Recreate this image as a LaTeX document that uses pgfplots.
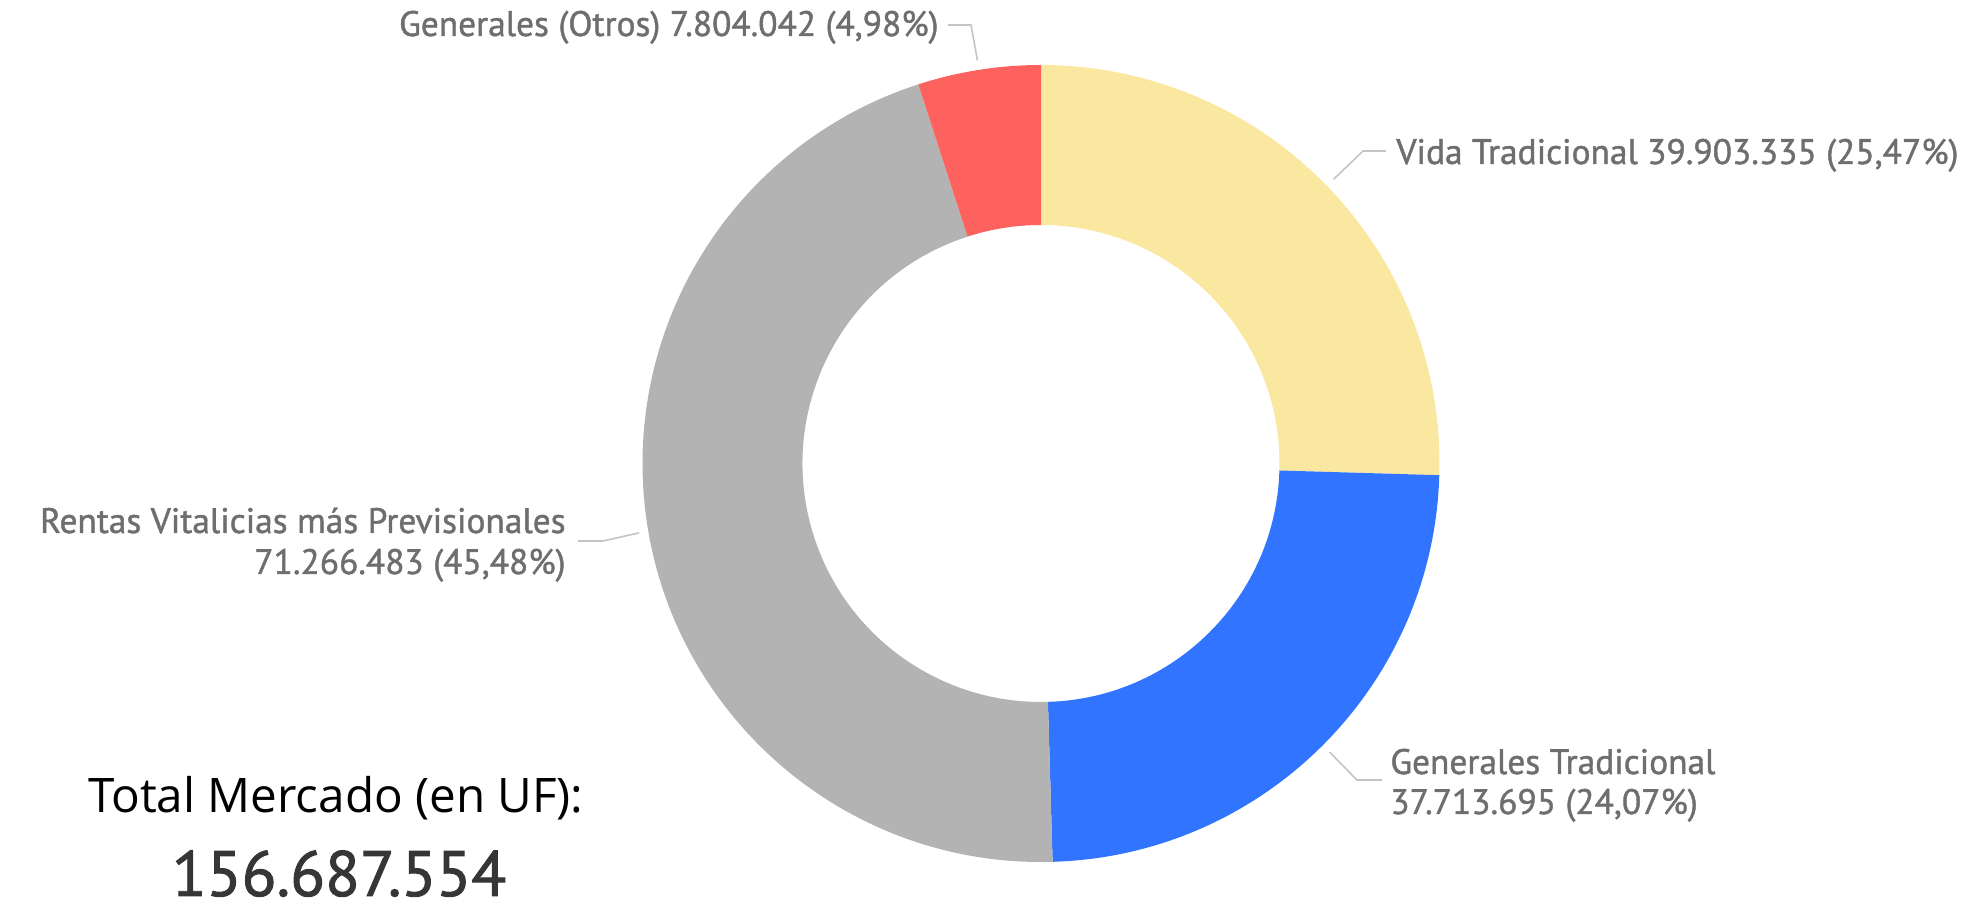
\documentclass[border=0pt]{standalone}
\usepackage{pgfplots}
\usepackage{pgfplotstable}
\pgfplotsset{compat=1.18}
\usepackage{fontspec}
\setmainfont{PT Sans}
\newfontfamily\din[RawFeature={embolden=1.2}]{PT Sans}
\newfontfamily\dinnum[RawFeature={embolden=1.5}]{PT Sans}
\newfontfamily\totalfont{Open Sans}
\definecolor{cVida}{HTML}{FAE8A0}
\definecolor{cGenT}{HTML}{3174FF}
\definecolor{cRent}{HTML}{B3B3B3}
\definecolor{cOtro}{HTML}{FD625E}
\definecolor{lbl}{HTML}{6E6E6E}
\definecolor{lead}{HTML}{C4C4C4}
\definecolor{num}{HTML}{363636}
\tikzset{
  lbl/.style={text=lbl, font=\din\fontsize{17.7}{22}\selectfont, inner sep=0pt},
  ld/.style={draw=lead, line width=0.8pt},
}

% values in millions of UF, clockwise from 12 o'clock
\pgfplotstableread{
name value
Vida 39.903335
GenTrad 37.713695
Rentas 71.266483
Otros 7.804042
}\donut

\begin{document}
\begin{tikzpicture}
\pgfplotstablegetelem{0}{value}\of\donut \let\vA\pgfplotsretval
\pgfplotstablegetelem{1}{value}\of\donut \let\vB\pgfplotsretval
\pgfplotstablegetelem{2}{value}\of\donut \let\vC\pgfplotsretval
\pgfplotstablegetelem{3}{value}\of\donut \let\vD\pgfplotsretval
\pgfmathsetmacro\tot{\vA+\vB+\vC+\vD}
\pgfmathsetmacro\aA{90}
\pgfmathsetmacro\aB{\aA-360*(\vA/\tot)}
\pgfmathsetmacro\aC{\aB-360*(\vB/\tot)}
\pgfmathsetmacro\aD{\aC-360*(\vC/\tot)}
\pgfmathsetmacro\aE{\aD-360*(\vD/\tot)}
\pgfmathsetmacro\mA{(\aA+\aB)/2}
\pgfmathsetmacro\mB{(\aB+\aC)/2}
\pgfmathsetmacro\mC{(\aC+\aD)/2}
\pgfmathsetmacro\mD{(\aD+\aE)/2}
\def\Ro{199.25pt}
\def\Ri{119.25pt}
\def\Rl{204pt}
\begin{axis}[
  width=983pt, height=452.5pt, scale only axis,
  xmin=0, xmax=1966, ymin=0, ymax=905,
  hide axis, clip=false,
]
\path (axis cs:0,0) rectangle (axis cs:1966,905);
% slices
\fill[cVida] (axis cs:1041,441.5) ++(\aA:\Ro) arc[start angle=\aA, end angle=\aB, radius=\Ro]
  -- ([shift={(\aB:\Ri)}]axis cs:1041,441.5) arc[start angle=\aB, end angle=\aA, radius=\Ri] -- cycle;
\fill[cGenT] (axis cs:1041,441.5) ++(\aB:\Ro) arc[start angle=\aB, end angle=\aC, radius=\Ro]
  -- ([shift={(\aC:\Ri)}]axis cs:1041,441.5) arc[start angle=\aC, end angle=\aB, radius=\Ri] -- cycle;
\fill[cRent] (axis cs:1041,441.5) ++(\aC:\Ro) arc[start angle=\aC, end angle=\aD, radius=\Ro]
  -- ([shift={(\aD:\Ri)}]axis cs:1041,441.5) arc[start angle=\aD, end angle=\aC, radius=\Ri] -- cycle;
\fill[cOtro] (axis cs:1041,441.5) ++(\aD:\Ro) arc[start angle=\aD, end angle=\aE, radius=\Ro]
  -- ([shift={(\aE:\Ri)}]axis cs:1041,441.5) arc[start angle=\aE, end angle=\aD, radius=\Ri] -- cycle;
% leader lines
\draw[ld] ([shift={(\mA:\Rl)}]axis cs:1041,441.5) -- (axis cs:1363,754) -- (axis cs:1386,754);
\draw[ld] ([shift={(\mB:\Rl)}]axis cs:1041,441.5) -- (axis cs:1357,125) -- (axis cs:1382,125);
\draw[ld] ([shift={(\mC:\Rl)}]axis cs:1041,441.5) -- (axis cs:603,364) -- (axis cs:578,364);
\draw[ld] ([shift={(\mD:\Rl)}]axis cs:1041,441.5) -- (axis cs:971,880) -- (axis cs:948,880);
% labels
\node[lbl, anchor=base west] at (axis cs:1396,741) {Vida Tradicional 39.903.335 (25,47\%)};
\node[lbl, anchor=base east] at (axis cs:939,869) {Generales (Otros) 7.804.042 (4,98\%)};
\node[lbl, anchor=base west] at (axis cs:1390,131) {Generales Tradicional};
\node[lbl, anchor=base west] at (axis cs:1390,91) {37.713.695 (24,07\%)};
\node[lbl, anchor=base east] at (axis cs:566,372) {Rentas Vitalicias más Previsionales};
\node[lbl, anchor=base east] at (axis cs:566,331) {71.266.483 (45,48\%)};
\node[inner sep=0pt, anchor=base, text=black, font=\totalfont\fontsize{23.8}{28}\selectfont] at (axis cs:336,92) {Total Mercado (en UF):};
\node[inner sep=0pt, anchor=base, text=num, font=\dinnum\fontsize{32}{38}\selectfont] at (axis cs:339,9) {156.687.554};
\end{axis}
\pgfresetboundingbox
\useasboundingbox (current axis.south west) rectangle (current axis.north east);
\end{tikzpicture}
\end{document}
